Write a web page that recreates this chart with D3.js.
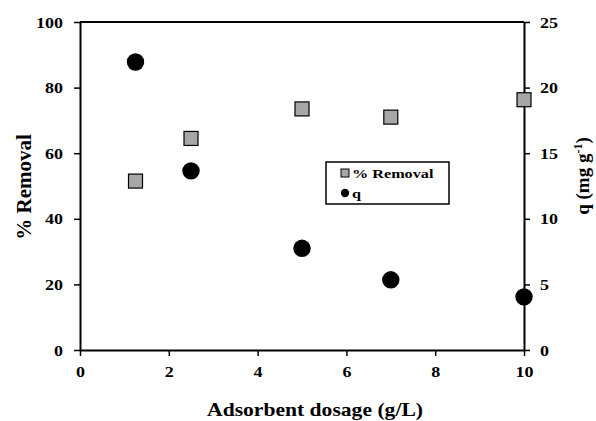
<!DOCTYPE html>
<html>
<head>
<meta charset="utf-8">
<script src="https://cdn.jsdelivr.net/npm/d3@7"></script>
<style>
  body { margin: 0; background: #fff; }
  text { font-family: "Liberation Serif", "Times New Roman", serif; font-weight: bold; fill: #000; }
</style>
</head>
<body>
<svg id="chart" width="596" height="421"></svg>
<script>
// Data.
const dosage = [1.25, 2.5, 5, 7, 10];
const removal = [51.5, 64.5, 73.5, 71, 76.3];
const q = [21.95, 13.65, 7.75, 5.35, 4.05];
const xTicks = [0, 2, 4, 6, 8, 10];
const leftTicks = [0, 20, 40, 60, 80, 100];
const rightTicks = [0, 5, 10, 15, 20, 25];

const svg = d3.select("#chart");
const margin = { top: 22, right: 72, bottom: 71, left: 80 };
const width = 596 - margin.left - margin.right;
const height = 421 - margin.top - margin.bottom;

// Text in the reference is drawn wider than its height.
const stretch = 1.2;

const x = d3.scaleLinear().domain([0, 10]).range([margin.left, margin.left + width]);
const yLeft = d3.scaleLinear().domain([0, 100]).range([margin.top + height, margin.top]);
const yRight = d3.scaleLinear().domain([0, 25]).range([margin.top + height, margin.top]);

/**
 * Axes.
 */
const styleAxis = (g) => {
  g.attr("font-family", null).attr("font-size", null);
  g.select(".domain").attr("stroke", "#000").attr("stroke-width", 2);
  g.selectAll(".tick line").attr("stroke", "#000").attr("stroke-width", 1.5);
  g.selectAll(".tick text").style("font-size", "15px");
};

// Move a tick label into a transform so it can be stretched sideways.
const stretchLabels = (g, dx, dy, anchor) => {
  g.selectAll(".tick text")
    .attr("x", null).attr("y", null).attr("dy", null)
    .attr("text-anchor", anchor)
    .attr("transform", `translate(${dx},${dy}) scale(${stretch},1)`);
};

svg.append("g")
  .attr("transform", `translate(0,${margin.top + height})`)
  .call(d3.axisBottom(x).tickValues(xTicks).tickSize(6).tickSizeOuter(0))
  .call(styleAxis)
  .call((g) => stretchLabels(g, 0, 27, "middle"));

svg.append("g")
  .attr("transform", `translate(${margin.left},0)`)
  .call(d3.axisLeft(yLeft).tickValues(leftTicks).tickSize(6).tickSizeOuter(0))
  .call(styleAxis)
  .call((g) => stretchLabels(g, -17, 5, "end"));

svg.append("g")
  .attr("transform", `translate(${margin.left + width},0)`)
  .call(d3.axisRight(yRight).tickValues(rightTicks).tickSize(6).tickSizeOuter(0))
  .call(styleAxis)
  .call((g) => stretchLabels(g, 16, 5, "start"));

// Top border of the plot box.
svg.append("line")
  .attr("x1", margin.left).attr("x2", margin.left + width)
  .attr("y1", margin.top).attr("y2", margin.top)
  .attr("stroke", "#000").attr("stroke-width", 2);

/**
 * Axis titles.
 */
svg.append("text")
  .attr("transform", `translate(315,416) scale(${stretch},1)`)
  .attr("text-anchor", "middle")
  .style("font-size", "18px")
  .text("Adsorbent dosage (g/L)");

svg.append("text")
  .attr("transform", "translate(31,187) rotate(-90)")
  .attr("text-anchor", "middle")
  .style("font-size", "21px")
  .text("% Removal");

const rightTitle = svg.append("text")
  .attr("transform", "translate(589,176) rotate(-90)")
  .attr("text-anchor", "middle")
  .style("font-size", "19px");
rightTitle.append("tspan").text("q (mg g");
rightTitle.append("tspan").attr("dy", -7).style("font-size", "12px").text("-1");
rightTitle.append("tspan").attr("dy", 7).text(")");

/**
 * Markers.
 */
const side = 14;
svg.append("g")
  .selectAll("rect")
  .data(dosage)
  .join("rect")
  .attr("x", (d) => x(d) - side / 2)
  .attr("y", (d, i) => yLeft(removal[i]) - side / 2)
  .attr("width", side).attr("height", side)
  .attr("fill", "#a6a6a6").attr("stroke", "#000").attr("stroke-width", 1.2);

svg.append("g")
  .selectAll("circle")
  .data(dosage)
  .join("circle")
  .attr("cx", (d) => x(d))
  .attr("cy", (d, i) => yRight(q[i]))
  .attr("r", 8.7)
  .attr("fill", "#000");

/**
 * Legend.
 */
const legend = svg.append("g").attr("transform", "translate(326,162)");
legend.append("rect")
  .attr("width", 123).attr("height", 42)
  .attr("fill", "#fff").attr("stroke", "#000").attr("stroke-width", 1.5);
legend.append("rect")
  .attr("x", 15).attr("y", 7).attr("width", 8).attr("height", 8)
  .attr("fill", "#a6a6a6").attr("stroke", "#000").attr("stroke-width", 1);
legend.append("circle")
  .attr("cx", 19).attr("cy", 31).attr("r", 4.2).attr("fill", "#000");
legend.append("text")
  .attr("transform", `translate(26,16) scale(${stretch},1)`)
  .style("font-size", "13.5px").text("% Removal");
legend.append("text")
  .attr("transform", `translate(26,36) scale(${stretch},1)`)
  .style("font-size", "13.5px").text("q");
</script>
</body>
</html>
